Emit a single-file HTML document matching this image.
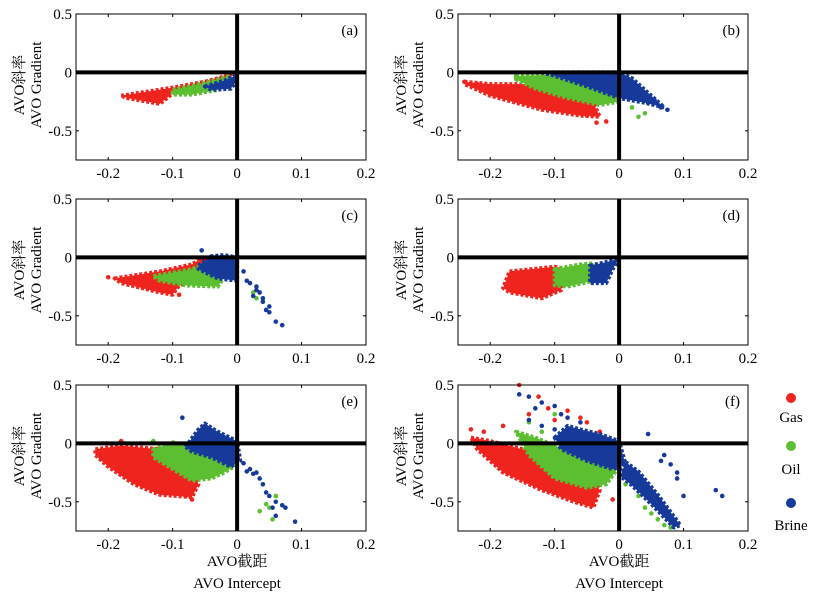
<!DOCTYPE html>
<html><head><meta charset="utf-8"><style>
body{margin:0;background:#fff;}
svg{display:block;font-family:"Liberation Serif","Noto Serif CJK SC",serif;}
</style></head><body>
<svg id="fig" width="813" height="601" viewBox="0 0 813 601" xmlns="http://www.w3.org/2000/svg"></svg>
<script>
// ---- data (intercept, gradient) ----
const xTicks = [-0.2, -0.1, 0, 0.1, 0.2];
const xTickLabels = ["-0.2", "-0.1", "0", "0.1", "0.2"];
const yTicks = [0.5, 0, -0.5];
const yTickLabels = ["0.5", "0", "-0.5"];
const panelLabels = ["(a)", "(b)", "(c)", "(d)", "(e)", "(f)"];
const classNames = ["Gas", "Oil", "Brine"];

const gasA = [[-0.18,-0.2],[-0.1,-0.13],[-0.03,-0.06],[-0.01,-0.02],[-0.05,-0.08],[-0.1,-0.18],[-0.12,-0.27],[-0.17,-0.22]];
const oilA = [[-0.1,-0.15],[-0.05,-0.09],[-0.01,-0.03],[-0.03,-0.15],[-0.07,-0.19],[-0.1,-0.19]];
const brineA = [[-0.05,-0.12],[-0.02,-0.07],[0,-0.02],[0,-0.07],[-0.01,-0.14],[-0.04,-0.15]];

const gasB = [[-0.24,-0.08],[-0.2,-0.1],[-0.15,-0.1],[-0.1,-0.12],[-0.06,-0.17],[-0.04,-0.26],[-0.03,-0.38],[-0.06,-0.37],[-0.12,-0.32],[-0.2,-0.2],[-0.24,-0.1]];
const oilB = [[-0.16,-0.03],[-0.1,-0.02],[-0.05,-0.07],[0,-0.17],[0,-0.25],[-0.03,-0.28],[-0.08,-0.22],[-0.13,-0.14],[-0.16,-0.06]];
const brineB = [[-0.12,0],[0,0],[0.02,-0.05],[0.05,-0.2],[0.07,-0.3],[0.04,-0.26],[0,-0.22],[-0.05,-0.12],[-0.1,-0.03]];
const gasPtsB = [[-0.035,-0.43],[-0.02,-0.42],[-0.05,-0.37],[-0.22,-0.1],[-0.24,-0.08]];
const oilPtsB = [[0.03,-0.38],[0.04,-0.35],[0.02,-0.3],[-0.16,-0.05]];
const brinePtsB = [[0.075,-0.32],[0.055,-0.24],[0.065,-0.3],[0.03,-0.22],[0.045,-0.26]];

const gasC = [[-0.19,-0.18],[-0.12,-0.12],[-0.07,-0.06],[-0.05,0.01],[-0.04,-0.1],[-0.09,-0.24],[-0.1,-0.32],[-0.12,-0.3],[-0.18,-0.22]];
const oilC = [[-0.13,-0.16],[-0.07,-0.1],[-0.04,-0.03],[-0.02,-0.17],[-0.03,-0.25],[-0.08,-0.24],[-0.12,-0.2]];
const brineC = [[-0.06,-0.07],[-0.04,0.01],[-0.02,0.02],[0,0],[0,-0.2],[-0.03,-0.18],[-0.06,-0.1]];
const gasPtsC = [[-0.2,-0.17],[-0.09,-0.32]];
const oilPtsC = [[0.03,-0.35],[0.025,-0.3]];
const brinePtsC = [[0.01,-0.12],[0.015,-0.2],[0.02,-0.22],[0.03,-0.28],[0.035,-0.3],[0.04,-0.35],[0.025,-0.33],[0.045,-0.45],[0.05,-0.47],[0.06,-0.55],[0.07,-0.58],[0.04,-0.38],[0.03,-0.25],[-0.055,0.06],[0.05,-0.42]];

const gasD = [[-0.17,-0.12],[-0.1,-0.08],[-0.08,-0.1],[-0.09,-0.28],[-0.12,-0.35],[-0.17,-0.3],[-0.18,-0.26]];
const oilD = [[-0.1,-0.1],[-0.06,-0.06],[-0.04,-0.05],[-0.04,-0.2],[-0.08,-0.25],[-0.1,-0.24]];
const brineD = [[-0.045,-0.07],[-0.02,-0.04],[0,-0.01],[-0.01,-0.1],[-0.02,-0.22],[-0.045,-0.22]];

const gasE = [[-0.22,-0.05],[-0.18,-0.02],[-0.12,-0.05],[-0.1,-0.12],[-0.07,-0.2],[-0.06,-0.35],[-0.07,-0.46],[-0.12,-0.44],[-0.16,-0.35],[-0.2,-0.2],[-0.22,-0.1]];
const oilE = [[-0.13,-0.05],[-0.1,0.01],[-0.07,-0.04],[-0.02,-0.1],[0,-0.18],[-0.02,-0.25],[-0.04,-0.3],[-0.07,-0.32],[-0.1,-0.22],[-0.13,-0.12]];
const brineE = [[-0.08,-0.03],[-0.06,0.12],[-0.05,0.17],[-0.03,0.1],[0,0.02],[0.005,-0.15],[-0.01,-0.2],[-0.04,-0.12],[-0.07,-0.07]];
const gasPtsE = [[-0.18,0.02],[-0.07,-0.48],[-0.08,-0.45],[-0.05,0.15],[-0.06,0.05]];
const oilPtsE = [[0.055,-0.65],[0.045,-0.52],[0.05,-0.55],[0.06,-0.45],[0.035,-0.58],[-0.13,0.02]];
const brinePtsE = [[0.01,-0.17],[0.02,-0.22],[0.03,-0.25],[0.04,-0.35],[0.045,-0.42],[0.05,-0.45],[0.06,-0.5],[0.07,-0.53],[0.075,-0.55],[0.09,-0.67],[0.055,-0.55],[0.06,-0.62],[-0.085,0.22],[0.035,-0.3],[0.025,-0.26],[0.015,-0.24]];

const gasF = [[-0.23,0.05],[-0.2,0.02],[-0.15,-0.05],[-0.1,-0.1],[-0.05,-0.22],[-0.03,-0.4],[-0.04,-0.55],[-0.07,-0.5],[-0.12,-0.4],[-0.18,-0.25],[-0.22,-0.05]];
const oilF = [[-0.16,0.1],[-0.13,0.05],[-0.1,-0.02],[-0.05,-0.1],[0,-0.2],[-0.02,-0.35],[-0.05,-0.38],[-0.1,-0.3],[-0.14,-0.1]];
const brineF = [[-0.1,0.05],[-0.08,0.15],[-0.06,0.12],[-0.03,0.08],[0,0.02],[0.01,-0.18],[-0.01,-0.22],[-0.05,-0.15],[-0.09,-0.05]];
const brineTailF = [[0.01,-0.16],[0.03,-0.24],[0.06,-0.44],[0.095,-0.7],[0.085,-0.72],[0.05,-0.52],[0.02,-0.36],[0.002,-0.28]];
const gasPtsF = [[-0.155,0.5],[-0.125,0.4],[-0.11,0.3],[-0.08,0.28],[-0.05,0.18],[-0.03,0.1],[-0.21,0.1],[-0.18,0.15],[-0.1,0.2],[-0.06,0.22],[-0.23,0.12],[-0.01,-0.48],[-0.14,0.25]];
const oilPtsF = [[0.01,-0.35],[0.03,-0.45],[0.05,-0.6],[0.06,-0.65],[0.08,-0.72],[0.04,-0.55],[0.07,-0.7],[-0.14,0.18],[-0.1,0.25],[-0.12,0.1]];
const brinePtsF = [[-0.155,0.42],[-0.14,0.4],[-0.12,0.35],[-0.13,0.3],[-0.1,0.32],[-0.14,0.2],[-0.12,0.15],[0.045,0.08],[0.15,-0.4],[0.16,-0.45],[0.1,-0.45],[0.09,-0.3],[0.065,-0.15],[0.08,-0.18],[0.07,-0.1],[0.09,-0.25],[-0.09,0.25],[-0.08,0.22],[-0.06,0.18],[-0.1,0.12]];

const panelPolys = [
  [gasA, oilA, brineA, []],
  [gasB, oilB, brineB, []],
  [gasC, oilC, brineC, []],
  [gasD, oilD, brineD, []],
  [gasE, oilE, brineE, []],
  [gasF, oilF, brineF, brineTailF]
];
const panelPts = [
  [[], [], []],
  [gasPtsB, oilPtsB, brinePtsB],
  [gasPtsC, oilPtsC, brinePtsC],
  [[], [], []],
  [gasPtsE, oilPtsE, brinePtsE],
  [gasPtsF, oilPtsF, brinePtsF]
];

// ---- layout ----
const colors = ["#f0241e", "#5cbf32", "#173a9a"];
const cols = [{l:76, r:366}, {l:458, r:748}];
const rows = [14, 199, 385];
const H = 146;
const X0 = -0.25, X1 = 0.2, Y0 = -0.75, Y1 = 0.5;
const NS = "http://www.w3.org/2000/svg";
const svg = document.getElementById("fig");
function mk(tag, attrs, parent) {
  const e = document.createElementNS(NS, tag);
  for (const k in attrs) e.setAttribute(k, attrs[k]);
  (parent || svg).appendChild(e);
  return e;
}

for (let p = 0; p < 6; p++) {
  const c = cols[p % 2], top = rows[Math.floor(p / 2)];
  const sx = v => c.l + (v - X0) / (X1 - X0) * (c.r - c.l);
  const sy = v => top + (Y1 - v) / (Y1 - Y0) * H;
  const g = mk("g", {});
  
  
  for (let k = 0; k < 3; k++) {
    const polys = [panelPolys[p][k]];
    if (k === 2 && panelPolys[p][3].length) polys.push(panelPolys[p][3]);
    polys.forEach(poly => {
      const el = mk("polygon", {points: poly.map(d => sx(d[0]) + "," + sy(d[1])).join(" "), fill: colors[k], stroke: colors[k], "stroke-width": 4, "stroke-linejoin": "round", "stroke-dasharray": "3 2"}, g);
      
      
    });
    panelPts[p][k].forEach(d => {
      const el = mk("circle", {cx: sx(d[0]), cy: sy(d[1]), r: 2.3, fill: colors[k]}, g);
      
      
    });
  }
  const zx = mk("line", {x1: c.l, x2: c.r, y1: sy(0), y2: sy(0), stroke: "#000", "stroke-width": 4}, g);
  
  
  const zy = mk("line", {x1: sx(0), x2: sx(0), y1: top, y2: top + H, stroke: "#000", "stroke-width": 4}, g);
  
  
  const box = mk("rect", {x: c.l, y: top, width: c.r - c.l, height: H, fill: "none", stroke: "#000", "stroke-width": 1}, g);
  
  
  xTicks.forEach((v, i) => {
    mk("line", {x1: sx(v), x2: sx(v), y1: top + H, y2: top + H - 3, stroke: "#000"}, g);
    mk("line", {x1: sx(v), x2: sx(v), y1: top, y2: top + 3, stroke: "#000"}, g);
    const t = mk("text", {x: sx(v), y: top + H + 18, "text-anchor": "middle", "font-size": 15}, g);
    t.textContent = xTickLabels[i];
    
    
  });
  yTicks.forEach((v, i) => {
    mk("line", {x1: c.l, x2: c.l + 3, y1: sy(v), y2: sy(v), stroke: "#000"}, g);
    mk("line", {x1: c.r, x2: c.r - 3, y1: sy(v), y2: sy(v), stroke: "#000"}, g);
    const t = mk("text", {x: c.l - 4, y: sy(v) + 5, "text-anchor": "end", "font-size": 15}, g);
    t.textContent = yTickLabels[i];
    
    
  });
  const pl = mk("text", {x: c.r - 8, y: top + 21, "text-anchor": "end", "font-size": 15}, g);
  pl.textContent = panelLabels[p];
  
  
  const cy = top + H / 2 - 2;
  const yl1 = mk("text", {x: c.l - 52, y: cy, transform: `rotate(-90 ${c.l - 52} ${cy})`, "text-anchor": "middle", "font-size": 15}, g);
  yl1.textContent = "AVO斜率";
  
  
  const yl2 = mk("text", {x: c.l - 35, y: cy, transform: `rotate(-90 ${c.l - 35} ${cy})`, "text-anchor": "middle", "font-size": 15}, g);
  yl2.textContent = "AVO Gradient";
  
  
  if (p >= 4) {
    const xl1 = mk("text", {x: sx(0), y: 566, "text-anchor": "middle", "font-size": 15}, g);
    xl1.textContent = "AVO截距";
    
    
    const xl2 = mk("text", {x: sx(0), y: 588, "text-anchor": "middle", "font-size": 15}, g);
    xl2.textContent = "AVO Intercept";
    
    
  }
}

const legY = [398, 446, 503];
const legTY = [422, 474, 530];
for (let k = 0; k < 3; k++) {
  const d = mk("circle", {cx: 791, cy: legY[k], r: 5, fill: colors[k]});
  
  
  const t = mk("text", {x: 791, y: legTY[k], "text-anchor": "middle", "font-size": 15});
  t.textContent = classNames[k];
  
  
}
</script>
</body></html>
